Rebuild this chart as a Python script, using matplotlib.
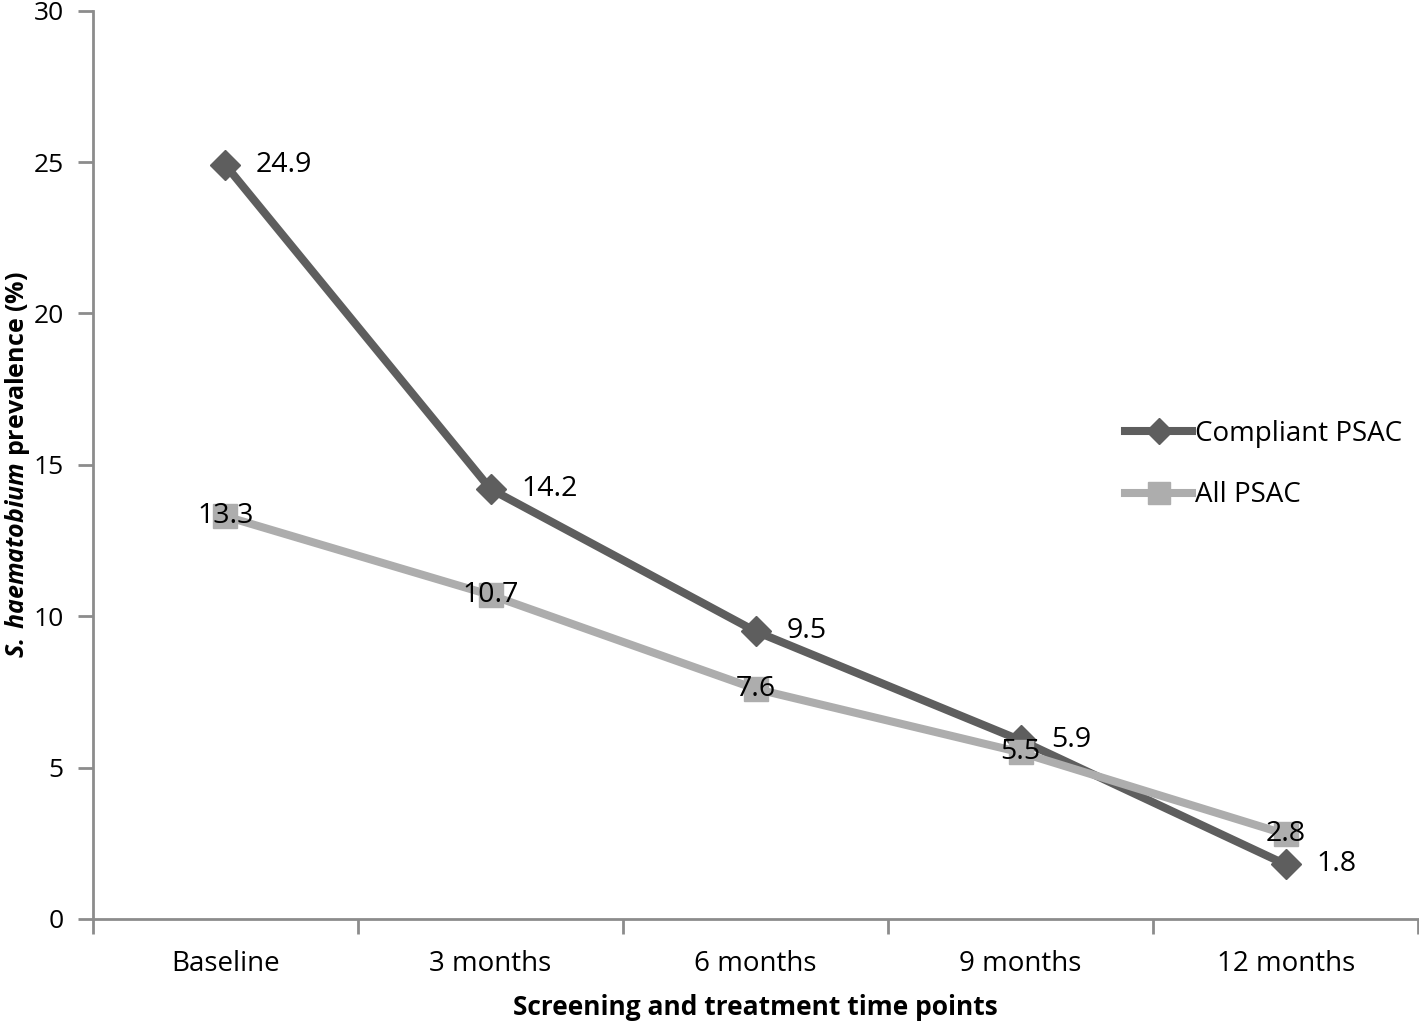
import numpy as np
import matplotlib.pyplot as plt

plt.rcParams['font.family'] = ['Open Sans', 'DejaVu Sans']
plt.rcParams['mathtext.fontset'] = 'custom'
plt.rcParams['mathtext.bfit'] = 'Open Sans:bold:italic'
plt.rcParams['mathtext.rm'] = 'Open Sans'

# data
timepoints = ['Baseline', '3 months', '6 months', '9 months', '12 months']
compliant = [24.9, 14.2, 9.5, 5.9, 1.8]
all_psac = [13.3, 10.7, 7.6, 5.5, 2.8]

dark = '#5e5e5e'
light = '#adadad'
axcol = '#8c8c8c'
fs = 19

fig = plt.figure(figsize=(14.19, 10.26), dpi=100)
ax = fig.add_axes([0.0655, 0.1043, 0.934, 0.8853])

x = np.arange(len(timepoints))
ax.plot(x, compliant, color=dark, lw=5.8, marker='D', ms=15,
        label='Compliant PSAC', zorder=3)
ax.plot(x, all_psac, color=light, lw=5.8, marker='s', ms=17,
        label='All PSAC', zorder=4)

# data labels: dark series to the right, light series centred on the marker
for xi, v in zip(x, compliant):
    ax.annotate(f'{v}', (xi, v), xytext=(22, 0), textcoords='offset points',
                ha='left', va='center', fontsize=20.5, zorder=6)
for xi, v in zip(x, all_psac):
    ax.annotate(f'{v}', (xi, v), xytext=(0, 0), textcoords='offset points',
                ha='center', va='center', fontsize=20.5, zorder=6)

ax.set_xlim(-0.5, 4.5)
ax.set_ylim(0, 30)
ax.set_yticks(range(0, 31, 5))
ax.set_xticks(x)
ax.set_xticklabels(timepoints, fontsize=20)
ax.set_xticks(np.arange(-0.5, 5, 1), minor=True)
ax.tick_params(axis='x', which='major', length=0, pad=22)
ax.tick_params(axis='x', which='minor', length=11, width=2, color=axcol, direction='out')
ax.tick_params(axis='y', length=11, width=2, color=axcol, labelsize=fs, pad=10)

for s in ['top', 'right']:
    ax.spines[s].set_visible(False)
for s in ['left', 'bottom']:
    ax.spines[s].set_color(axcol)
    ax.spines[s].set_linewidth(2)

ax.set_xlabel('Screening and treatment time points', fontsize=fs,
              fontweight='bold', labelpad=12)
ax.set_ylabel(r'$\mathbfit{S.\,haematobium}$ prevalence (%)', fontsize=fs - 1,
              fontweight='bold')
ax.yaxis.set_label_coords(-0.046, 0.5)

ax.legend(loc='center left', bbox_to_anchor=(0.76, 0.50), frameon=False,
          fontsize=fs + 1, handlelength=2.4, handletextpad=0.1, labelspacing=1.2,
          markerscale=0.9)

fig.savefig('out.png', dpi=100)
